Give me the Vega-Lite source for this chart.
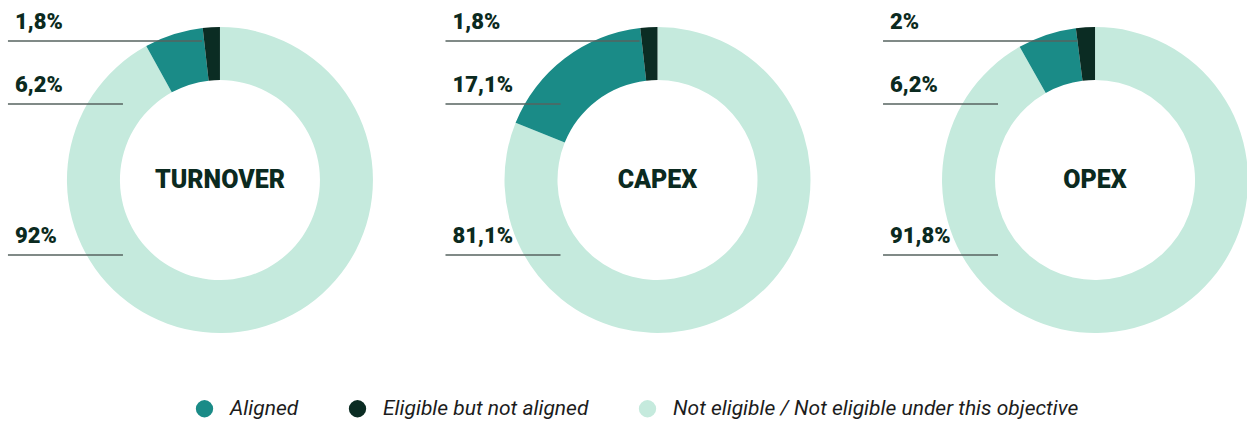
{
  "$schema": "https://vega.github.io/schema/vega-lite/v6.json",
  "width": 1247,
  "height": 360,
  "padding": 0,
  "background": "#ffffff",
  "data": {
    "values": [
      {"metric": "TURNOVER", "category": "Not eligible / Not eligible under this objective", "value": 92, "label": "92%", "order": 1},
      {"metric": "TURNOVER", "category": "Aligned", "value": 6.2, "label": "6,2%", "order": 2},
      {"metric": "TURNOVER", "category": "Eligible but not aligned", "value": 1.8, "label": "1,8%", "order": 3},
      {"metric": "CAPEX", "category": "Not eligible / Not eligible under this objective", "value": 81.1, "label": "81,1%", "order": 1},
      {"metric": "CAPEX", "category": "Aligned", "value": 17.1, "label": "17,1%", "order": 2},
      {"metric": "CAPEX", "category": "Eligible but not aligned", "value": 1.8, "label": "1,8%", "order": 3},
      {"metric": "OPEX", "category": "Not eligible / Not eligible under this objective", "value": 91.8, "label": "91,8%", "order": 1},
      {"metric": "OPEX", "category": "Aligned", "value": 6.2, "label": "6,2%", "order": 2},
      {"metric": "OPEX", "category": "Eligible but not aligned", "value": 2, "label": "2%", "order": 3}
    ]
  },
  "transform": [
    {"stack": "value", "groupby": ["metric"], "sort": [{"field": "order", "order": "ascending"}], "as": ["t0", "t1"]}
  ],
  "encoding": {
    "x": {
      "field": "metric",
      "type": "nominal",
      "sort": ["TURNOVER", "CAPEX", "OPEX"],
      "scale": {"type": "point", "padding": 0.425, "align": 0.5914},
      "axis": null
    }
  },
  "layer": [
    {
      "mark": {"type": "arc", "outerRadius": 153, "innerRadius": 100},
      "encoding": {
        "theta": {"field": "t0", "type": "quantitative", "scale": {"domain": [0, 100]}},
        "theta2": {"field": "t1"},
        "color": {
          "field": "category",
          "type": "nominal",
          "scale": {
            "domain": ["Aligned", "Eligible but not aligned", "Not eligible / Not eligible under this objective"],
            "range": ["#1a8b87", "#0b2c23", "#c5eadd"]
          },
          "legend": {
            "title": null,
            "orient": "none",
            "legendX": 194,
            "legendY": 398,
            "direction": "horizontal",
            "symbolType": "circle",
            "symbolSize": 300,
            "symbolStrokeWidth": 0,
            "labelFont": "Roboto",
            "labelFontStyle": "italic",
            "labelFontSize": 21,
            "labelColor": "#1c1c1c",
            "labelOffset": 15,
            "columnPadding": 48,
            "labelLimit": 600
          }
        }
      }
    },
    {
      "transform": [{"filter": "datum.order != 3"}],
      "mark": {"type": "rule", "color": "#56635f", "strokeWidth": 1.5, "xOffset": -212, "x2Offset": -97},
      "encoding": {
        "x2": {"field": "metric"},
        "y": {"field": "order", "type": "quantitative", "scale": {"domain": [1, 2, 3], "range": [255, 104, 41], "zero": false, "nice": false}, "axis": null}
      }
    },
    {
      "transform": [{"filter": "datum.order == 3"}],
      "mark": {"type": "rule", "color": "#56635f", "strokeWidth": 1.5, "xOffset": -212, "x2Offset": -18},
      "encoding": {
        "x2": {"field": "metric"},
        "y": {"field": "order", "type": "quantitative", "axis": null}
      }
    },
    {
      "mark": {"type": "text", "align": "left", "baseline": "alphabetic", "dx": -205, "dy": -12, "font": "Roboto", "fontWeight": 900, "fontSize": 22, "color": "#0b2a20"},
      "encoding": {
        "y": {"field": "order", "type": "quantitative", "axis": null},
        "text": {"field": "label"}
      }
    },
    {
      "transform": [{"filter": "datum.order == 1"}],
      "mark": {"type": "text", "align": "center", "baseline": "middle", "font": "Roboto", "fontWeight": 900, "fontSize": 25, "color": "#0b2a20"},
      "encoding": {
        "text": {"field": "metric"}
      }
    }
  ],
  "config": {"view": {"stroke": null}}
}
